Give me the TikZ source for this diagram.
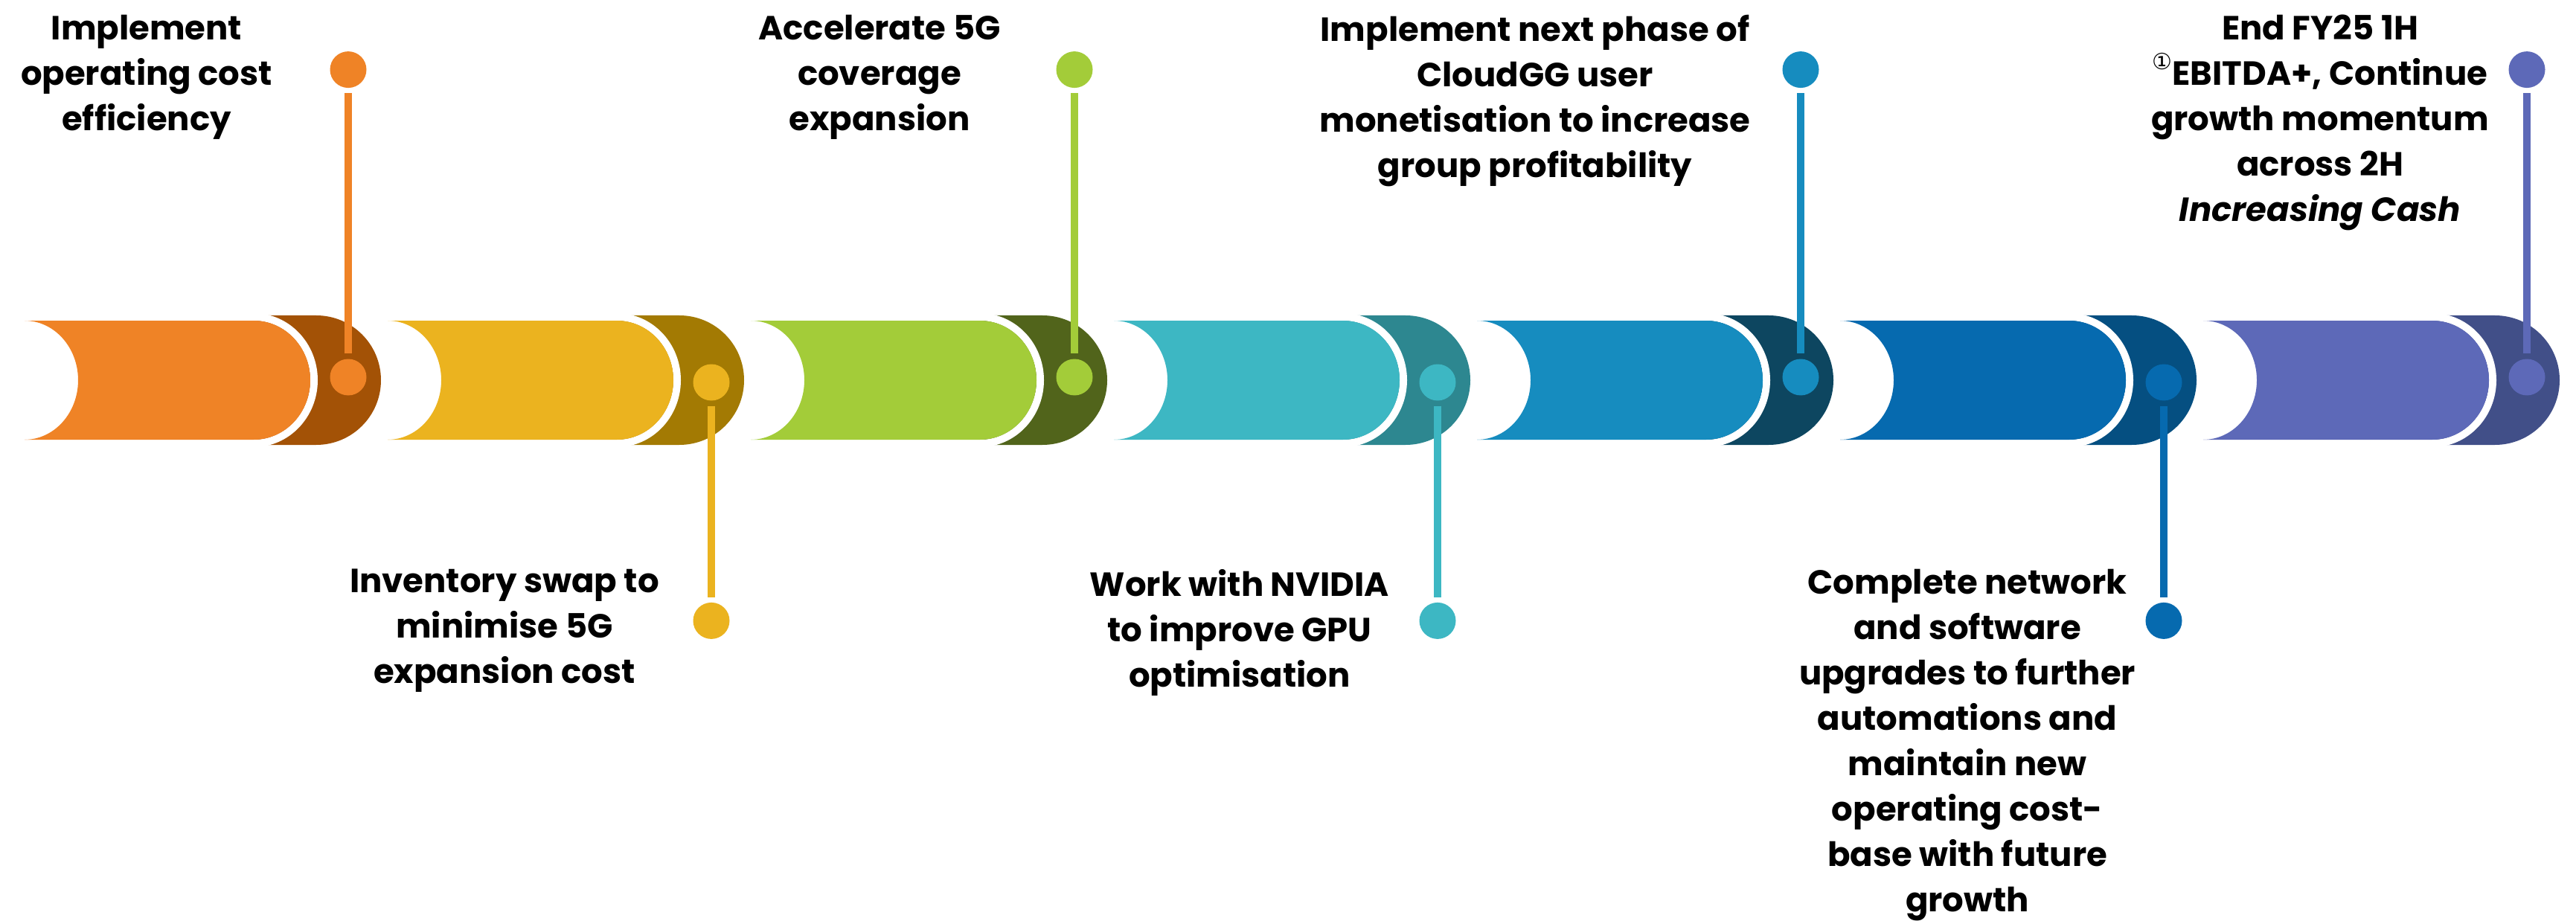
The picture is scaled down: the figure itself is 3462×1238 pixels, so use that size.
\documentclass[tikz,border=0pt]{standalone}
\usepackage{xcolor}
\usepackage{fontspec}
\setmainfont{Poppins}
\newfontfamily\circledfont{DejaVu Sans}
\usepackage{tikz}
\usetikzlibrary{positioning}
\definecolor{orangelight}{RGB}{239,131,38}
\definecolor{orangedark}{RGB}{163,82,6}
\definecolor{yellowlight}{RGB}{235,179,31}
\definecolor{yellowdark}{RGB}{163,122,3}
\definecolor{greenlight}{RGB}{163,204,57}
\definecolor{greendark}{RGB}{81,100,27}
\definecolor{teallight}{RGB}{61,183,195}
\definecolor{tealdark}{RGB}{45,135,144}
\definecolor{bluelight}{RGB}{22,140,191}
\definecolor{bluedark}{RGB}{13,70,96}
\definecolor{navylight}{RGB}{6,106,175}
\definecolor{navydark}{RGB}{5,79,129}
\definecolor{purplelight}{RGB}{93,105,184}
\definecolor{purpledark}{RGB}{65,79,136}
\tikzset{
  pics/segment/.style 2 args={code={
    \fill[#2] (309,-87) -- (392,-87) arc[start angle=-90, end angle=90, radius=87]
      -- (309,87) -- cycle;
    \draw[white, line width=10pt] (308,-85)
      arc[start angle=-90, end angle=90, x radius=81, y radius=85];
    \fill[#1] (0,-80) -- (308,-80)
      arc[start angle=-90, end angle=90, x radius=76, y radius=80] -- (0,80)
      arc[start angle=90, end angle=-90, x radius=72, y radius=80] -- cycle;
  }},
  milestone/.style={circle, fill=#1, minimum size=49pt, inner sep=0pt},
  stemline/.style={draw=#1, line width=10pt, shorten <=7pt, shorten >=7pt},
  notetext/.style={align=center, inner sep=0pt, anchor=north,
    font=\bfseries\fontsize{45}{61}\selectfont},
}

\begin{document}
\begin{tikzpicture}[x=1pt, y=-1pt]
  \useasboundingbox (0,0) rectangle (3462,1238);
  % timeline bars
  \pic at (33,511) {segment={orangelight}{orangedark}};
  \pic at (521,511) {segment={yellowlight}{yellowdark}};
  \pic at (1009,511) {segment={greenlight}{greendark}};
  \pic at (1497,511) {segment={teallight}{tealdark}};
  \pic at (1985,511) {segment={bluelight}{bluedark}};
  \pic at (2473,511) {segment={navylight}{navydark}};
  \pic at (2961,511) {segment={purplelight}{purpledark}};

  % milestones
  \node[milestone=orangelight] (dot1) at (468,507) {};
  \node[milestone=orangelight, above=364pt of dot1] (end1) {};
  \draw[stemline=orangelight] (end1) -- (dot1);
  \node[milestone=yellowlight] (dot2) at (956,514) {};
  \node[milestone=yellowlight, below=271pt of dot2] (end2) {};
  \draw[stemline=yellowlight] (dot2) -- (end2);
  \node[milestone=greenlight] (dot3) at (1444,507) {};
  \node[milestone=greenlight, above=364pt of dot3] (end3) {};
  \draw[stemline=greenlight] (end3) -- (dot3);
  \node[milestone=teallight] (dot4) at (1932,514) {};
  \node[milestone=teallight, below=271pt of dot4] (end4) {};
  \draw[stemline=teallight] (dot4) -- (end4);
  \node[milestone=bluelight] (dot5) at (2420,507) {};
  \node[milestone=bluelight, above=364pt of dot5] (end5) {};
  \draw[stemline=bluelight] (end5) -- (dot5);
  \node[milestone=navylight] (dot6) at (2908,514) {};
  \node[milestone=navylight, below=271pt of dot6] (end6) {};
  \draw[stemline=navylight] (dot6) -- (end6);
  \node[milestone=purplelight] (dot7) at (3396,507) {};
  \node[milestone=purplelight, above=364pt of dot7] (end7) {};
  \draw[stemline=purplelight] (end7) -- (dot7);

  % texts
  \node[notetext] (txt1) at (197,20) {Implement\\operating cost\\efficiency};
  \node[notetext] (txt2) at (678,765) {Inventory swap to\\minimise 5G\\expansion cost};
  \node[notetext] (txt3) at (1182,20) {Accelerate 5G\\coverage\\expansion};
  \node[notetext] (txt4) at (1666,765) {Work with NVIDIA\\to improve GPU\\optimisation};
  \node[notetext] (txt5) at (2063,20)
    {Implement next phase of\\CloudGG user\\monetisation to increase\\group profitability};
  \node[notetext] (txt6) at (2644,765)
    {Complete network\\and software\\upgrades to further\\automations and\\maintain new\\operating cost-\\base with future\\growth};
  \node[notetext] (txt7) at (3118,20)
    {End FY25 1H\\{\circledfont\mdseries\fontsize{30}{30}\selectfont\raisebox{21pt}{①}}EBITDA+, Continue\\growth momentum\\across 2H\\\textit{Increasing Cash}};
\end{tikzpicture}
\end{document}
